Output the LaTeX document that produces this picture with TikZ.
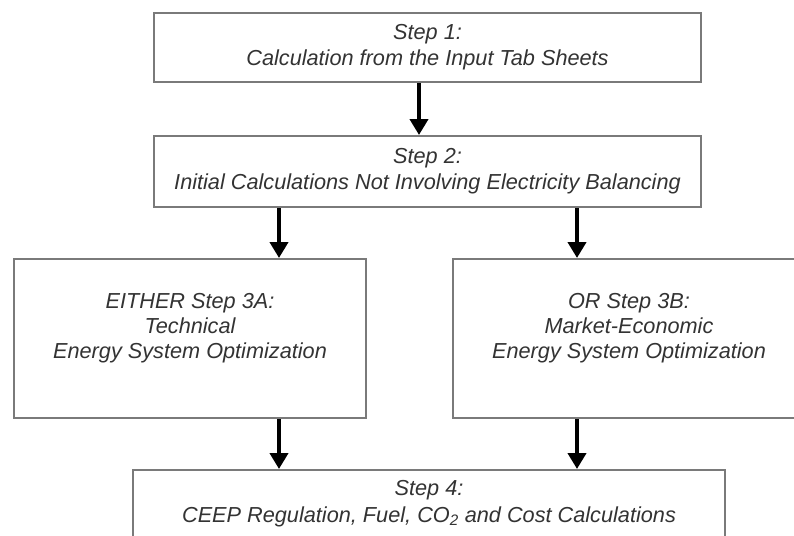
\documentclass[tikz,border=0pt]{standalone}
\usepackage{fontspec}
\setmainfont{Liberation Sans}
\usetikzlibrary{arrows.meta}
\definecolor{boxgray}{HTML}{7A7A7A}
\definecolor{txtgray}{HTML}{333333}
\begin{document}
\begin{tikzpicture}[x=1pt,y=-1pt,
  box/.style={draw=boxgray, line width=2pt, fill=white, inner sep=0pt},
  txt/.style={font=\fontsize{21.7}{26}\selectfont\itshape, text=txtgray, align=center, inner sep=0pt},
  arr/.style={line width=4pt, draw=black, -{Triangle[width=18pt,length=16pt]}}]
\useasboundingbox (0,0) rectangle (794,535);
\clip (0,0) rectangle (794,535);
% boxes
\node[box, minimum width=547pt, minimum height=69pt] (b1) at (427.5,47.5) {};
\node[box, minimum width=547pt, minimum height=71pt] (b2) at (427.5,171.5) {};
\node[box, minimum width=352pt, minimum height=159pt] (b3a) at (190,338.5) {};
\node[box, minimum width=352pt, minimum height=159pt] (b3b) at (629,338.5) {};
\node[box, minimum width=592pt, minimum height=100pt] (b4) at (429,520) {};
% texts
\node[txt] (t1) at (427.5,47.5) {Step 1:\\Calculation from the Input Tab Sheets};
\node[txt] (t2) at (427.5,171.5) {Step 2:\\Initial Calculations Not Involving Electricity Balancing};
\node[txt, font=\fontsize{21.7}{25}\selectfont\itshape] (t3a) at (190,328) {EITHER Step 3A:\\Technical\\Energy System Optimization};
\node[txt, font=\fontsize{21.7}{25}\selectfont\itshape] (t3b) at (629,328) {OR Step 3B:\\Market-Economic\\Energy System Optimization};
\node[txt, font=\fontsize{21.7}{27}\selectfont\itshape] (t4) at (429,503.5) {Step 4:\\CEEP Regulation, Fuel, CO\textsubscript{2} and Cost Calculations};
% arrow columns
\coordinate (xa) at (419,0);
\coordinate (xl) at (279,0);
\coordinate (xr) at (577,0);
\draw[arr] (b1.south -| xa) -- (b2.north -| xa);
\draw[arr] (b2.south -| xl) -- (b3a.north -| xl);
\draw[arr] (b2.south -| xr) -- (b3b.north -| xr);
\draw[arr] (b3a.south -| xl) -- (b4.north -| xl);
\draw[arr] (b3b.south -| xr) -- (b4.north -| xr);
\end{tikzpicture}
\end{document}
